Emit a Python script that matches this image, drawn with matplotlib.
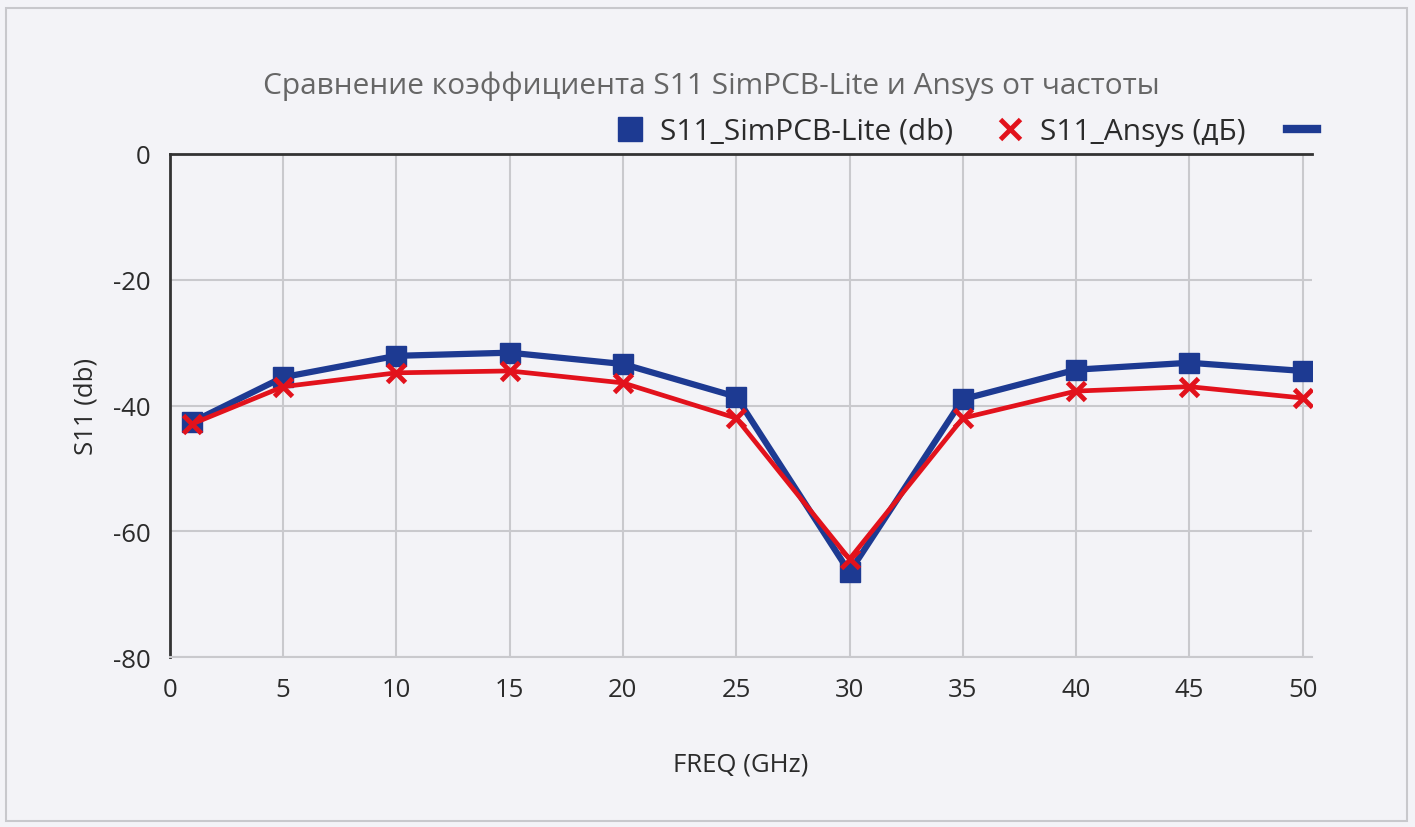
import numpy as np
import matplotlib.pyplot as plt
from matplotlib.lines import Line2D

plt.rcParams['font.family'] = ['Open Sans', 'DejaVu Sans']
plt.rcParams['axes.unicode_minus'] = False

freq = np.array([1, 5, 10, 15, 20, 25, 30, 35, 40, 45, 50])
s11_simpcb = np.array([-42.6, -35.5, -32.1, -31.6, -33.4, -38.6, -66.5, -39.0, -34.3, -33.2, -34.5])
s11_ansys = np.array([-42.9, -37.0, -34.8, -34.5, -36.4, -42.0, -64.4, -42.0, -37.7, -37.0, -38.8])

bg = '#f3f3f7'
blue = '#1d3a92'
red = '#e2121c'

fig = plt.figure(figsize=(14.15, 8.28), dpi=100, facecolor=bg)
# рамка вокруг диаграммы
fig.patches.append(plt.Rectangle((0.004, 0.007), 0.99, 0.982, transform=fig.transFigure,
                                 fill=False, edgecolor='#c8c8cc', linewidth=1.5))

ax = fig.add_axes([0.120, 0.205, 0.807, 0.608], facecolor=bg)
ax.plot(freq, s11_simpcb, color=blue, linewidth=4.5, marker='s', markersize=15, zorder=3)
ax.plot(freq, s11_ansys, color=red, linewidth=3.4, marker='x', markersize=13, markeredgewidth=3.5, zorder=4)

ax.set_xlim(0, 50.4)
ax.set_ylim(-80, 0)
ax.set_xticks([0, 5, 10, 15, 20, 25, 30, 35, 40, 45, 50])
ax.set_yticks([0, -20, -40, -60, -80])
ax.grid(color='#c9c9cd', linewidth=1.5)
ax.set_axisbelow(True)

ax.spines['right'].set_visible(False)
ax.spines['bottom'].set_color('#c9c9cd')
ax.spines['bottom'].set_linewidth(1.5)
ax.spines['left'].set_color('#333333')
ax.spines['left'].set_linewidth(2)
ax.spines['top'].set_color('#333333')
ax.spines['top'].set_linewidth(2)
ax.tick_params(length=0, labelsize=18.5, labelcolor='#2b2b2b', pad=14)

ax.set_xlabel('FREQ (GHz)', fontsize=18.5, color='#2b2b2b', labelpad=36)
ax.set_ylabel('S11 (db)', fontsize=18.5, color='#2b2b2b', labelpad=10)

fig.text(0.503, 0.896, 'Сравнение коэффициента S11 SimPCB-Lite и Ansys от частоты',
         ha='center', va='center', fontsize=21.5, color='#666666')

handles = [
    Line2D([], [], color=blue, marker='s', markersize=17, linestyle='none'),
    Line2D([], [], color=red, marker='x', markersize=14, markeredgewidth=3.5, linestyle='none'),
    Line2D([], [], color=blue, linewidth=6),
]
labels = ['S11_SimPCB-Lite (db)', 'S11_Ansys (дБ)', '']
fig.legend(handles, labels, loc='center left', bbox_to_anchor=(0.416, 0.840), ncol=3,
           frameon=False, fontsize=21.5, handlelength=1.0, handletextpad=0.5,
           columnspacing=1.4, labelcolor='#2b2b2b')

fig.savefig('out.png', dpi=100, facecolor=bg)
